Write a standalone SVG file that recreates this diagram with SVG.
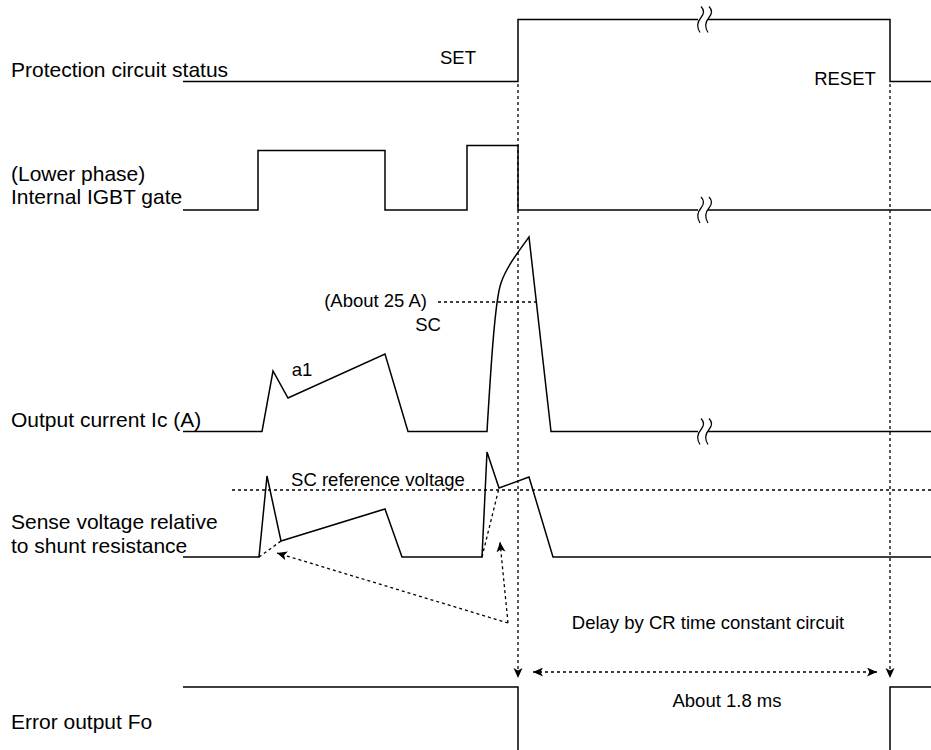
<svg xmlns="http://www.w3.org/2000/svg" width="931" height="750" viewBox="0 0 931 750">
<style>
.sig{fill:none;stroke:#000;stroke-width:1.5;stroke-linejoin:miter}
.dot{fill:none;stroke:#000;stroke-width:1.3;stroke-dasharray:3 3}
.lbl{font-family:"Liberation Sans",Arial,sans-serif;font-size:21px;fill:#000}
.txt{font-family:"Liberation Sans",Arial,sans-serif;font-size:18.5px;fill:#000}
.brk{fill:none;stroke:#000;stroke-width:1.2}
</style>
<defs>
<marker id="arrEnd" markerUnits="userSpaceOnUse" markerWidth="12" markerHeight="10" refX="10" refY="4.5" orient="auto" viewBox="0 0 12 10">
<path d="M0,0 L10,4.5 L0,9 L2.5,4.5 z" fill="#000"/>
</marker>
<marker id="arrStart" markerUnits="userSpaceOnUse" markerWidth="12" markerHeight="10" refX="0" refY="4.5" orient="auto" viewBox="0 0 12 10">
<path d="M10,0 L0,4.5 L10,9 L7.5,4.5 z" fill="#000"/>
</marker>
<g id="breakmark">
<rect x="-5" y="-4" width="10" height="8" fill="#fff"/>
<path class="brk" d="M-2,-13 Q3,-8 -2,-2 Q-8,5 -3,13"/>
<path class="brk" d="M6,-13 Q11,-8 6,-2 Q0,5 5,13"/>
</g>
</defs>
<g id="signal-protection">
<text class="lbl" x="11" y="77">Protection circuit status</text>
<path class="sig" d="M183,81.5 H518 V19.5 H890 V81.5 H931"/>
<use href="#breakmark" x="703" y="19.5"/>
<text class="txt" x="458" y="64" text-anchor="middle">SET</text>
<text class="txt" x="845" y="85" text-anchor="middle">RESET</text>
</g>
<g id="signal-gate">
<text class="lbl" x="11" y="181">(Lower phase)</text>
<text class="lbl" x="11" y="204">Internal IGBT gate</text>
<path class="sig" d="M183,210 H258 V150.5 H385 V210 H467 V145.5 H518 V210 H931"/>
<use href="#breakmark" x="703" y="210"/>
</g>
<g id="signal-current">
<text class="lbl" x="11" y="427">Output current Ic (A)</text>
<path class="sig" d="M183,431.5 H262 L273,371 L288,398 L385,354 L408,431.5 H487 C491,365 495,300 501,283 C506,268 518,252 529,237 L551,431.5 H931"/>
<use href="#breakmark" x="703" y="431.5"/>
<path class="dot" d="M438,302 H537"/>
<text class="txt" x="427" y="307" text-anchor="end">(About 25 A)</text>
<text class="txt" x="428" y="331" text-anchor="middle">SC</text>
<text class="txt" x="302" y="376" text-anchor="middle">a1</text>
</g>
<g id="signal-sense">
<text class="lbl" x="11" y="529">Sense voltage relative</text>
<text class="lbl" x="11" y="553">to shunt resistance</text>
<path class="dot" d="M232,490 H931"/>
<text class="txt" x="378" y="486" text-anchor="middle">SC reference voltage</text>
<path class="sig" d="M183,557 H259 L267,476 L281,541 L385,509 L402,557 H482 L487,452 L499,488 L529,477 L553,557 H931"/>
<path class="dot" d="M259,557 L281,541"/>
<path class="dot" d="M482,557 L499,488"/>
</g>
<g id="signal-error">
<text class="lbl" x="11" y="729">Error output Fo</text>
<path class="sig" d="M183,687 H518 V750"/>
<path class="sig" d="M890,750 V687 H931"/>
<text class="txt" x="708" y="629" text-anchor="middle">Delay by CR time constant circuit</text>
<text class="txt" x="727" y="707" text-anchor="middle">About 1.8 ms</text>
</g>
<g id="connectors">
<path class="dot" d="M518,84 V678" marker-end="url(#arrEnd)"/>
<path class="dot" d="M890,84 V678" marker-end="url(#arrEnd)"/>
<path class="dot" d="M533,672 H877" marker-start="url(#arrStart)" marker-end="url(#arrEnd)"/>
<path class="dot" d="M508,623 L277,553" marker-end="url(#arrEnd)"/>
<path class="dot" d="M508,623 L500,542" marker-end="url(#arrEnd)"/>
</g>
</svg>
